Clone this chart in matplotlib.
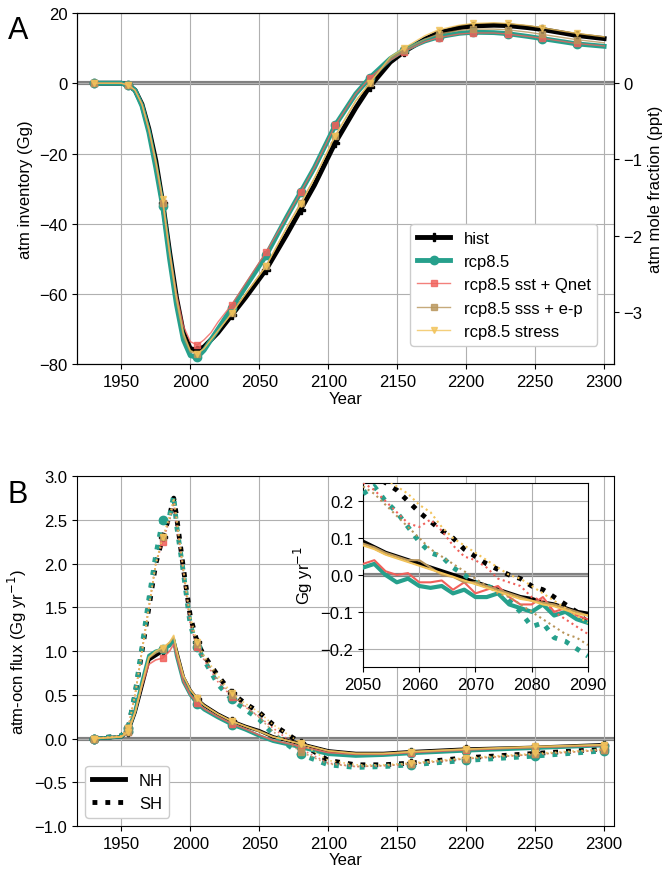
import matplotlib
matplotlib.use("Agg")
import matplotlib.pyplot as plt
import numpy as np
from matplotlib.lines import Line2D

plt.rcParams['font.family'] = ['Liberation Sans', 'DejaVu Sans']
plt.rcParams['font.size'] = 12

names = ["hist", "rcp8.5", "rcp8.5 sst + Qnet", "rcp8.5 sss + e-p", "rcp8.5 stress"]
colors = ["#000000", "#26a08c", "#f0605a", "#b8955a", "#f2c35a"]
markers = ["P", "o", "s", "s", "v"]

yearsA = [1930,1950,1955,1960,1965,1970,1975,1980,1985,1990,1995,2000,2005,2010,2015,2020,2030,2040,2055,2070,2080,2090,2105,2120,2130,2145,2155,2170,2180,2195,2205,2220,2230,2245,2255,2270,2280,2300]
invA = [
 [0,0,-0.5,-2,-6,-13,-22,-34,-48,-61,-71,-75.5,-76,-75,-73,-71,-66,-61,-53,-43,-36,-29,-17,-7,-1,6,9,12.5,14.3,15.8,16.3,16.5,16.4,15.8,15.3,14.3,13.6,12.7],
 [0,0,-0.5,-2,-6.5,-14,-24,-35,-50,-63,-73,-77.5,-78,-76,-73,-70,-64,-58,-49,-38,-31,-24,-12,-3,1.5,7,9.5,12,13.2,14.2,14.5,14.4,14.1,13.3,12.7,11.8,11.2,10.5],
 [0,0,-0.5,-2,-6,-13.5,-23,-34,-48,-60,-69,-73.5,-74.5,-73,-71,-68,-63,-57,-48,-38,-31,-24,-12,-3,1.5,6.5,9,11.8,13,14,14.3,14.3,14,13.3,12.8,11.9,11.3,10.6],
 [0,0,-0.5,-2,-6,-13.5,-23,-34,-49,-62,-72,-76.5,-77,-75.5,-73,-70.5,-65.5,-60,-52,-41,-34,-27,-15,-5,0,7,9.5,12.5,14,15,15.4,15.4,15.2,14.5,13.9,13,12.4,11.5],
 [0,0,-0.5,-2,-6,-13,-22,-33,-48,-61,-71,-76,-77,-75.5,-73,-70.5,-65.5,-60,-52,-41,-34.5,-27,-15,-5,0,7.5,10,13.5,15.2,16.5,17,17.2,17,16.4,15.8,14.8,14.2,13.2],
]

yearsB = [1930,1950,1955,1960,1965,1970,1975,1980,1985,1988,1990,1995,2000,2005,2010,2020,2030,2040,2050,2060,2080,2100,2120,2140,2160,2200,2250,2300]
nhB = [
 [0,0.02,0.08,0.3,0.6,0.9,0.95,1.0,1.08,1.12,1.0,0.7,0.55,0.45,0.38,0.28,0.2,0.14,0.09,0.02,-0.06,-0.14,-0.17,-0.17,-0.15,-0.12,-0.1,-0.07],
 [0,0.02,0.09,0.32,0.65,0.95,1.0,1.02,1.06,1.13,0.95,0.65,0.5,0.4,0.33,0.24,0.16,0.1,0.03,-0.03,-0.1,-0.18,-0.2,-0.19,-0.17,-0.14,-0.11,-0.08],
 [0,0.02,0.08,0.3,0.6,0.85,0.9,0.92,1.0,1.08,0.95,0.65,0.5,0.41,0.34,0.25,0.17,0.11,0.04,-0.02,-0.09,-0.16,-0.18,-0.18,-0.16,-0.13,-0.1,-0.08],
 [0,0.02,0.08,0.3,0.62,0.92,0.98,1.02,1.1,1.16,1.0,0.72,0.56,0.46,0.38,0.28,0.2,0.14,0.09,0.02,-0.06,-0.14,-0.17,-0.17,-0.15,-0.12,-0.1,-0.07],
 [0,0.02,0.08,0.3,0.62,0.93,1.0,1.04,1.1,1.18,1.02,0.72,0.56,0.46,0.38,0.28,0.2,0.14,0.08,0.02,-0.06,-0.14,-0.17,-0.17,-0.15,-0.12,-0.09,-0.07],
]
shB = [
 [0,0.03,0.12,0.5,1.0,1.5,2.0,2.3,2.55,2.75,2.55,1.95,1.4,1.1,0.95,0.72,0.52,0.4,0.3,0.16,-0.05,-0.25,-0.3,-0.3,-0.28,-0.22,-0.17,-0.12],
 [0,0.03,0.12,0.52,1.05,1.6,2.1,2.5,2.55,2.78,2.45,1.9,1.3,1.05,0.9,0.62,0.45,0.33,0.22,0.05,-0.18,-0.3,-0.33,-0.32,-0.3,-0.25,-0.2,-0.14],
 [0,0.03,0.12,0.5,1.0,1.5,2.0,2.25,2.5,2.7,2.45,1.9,1.3,1.05,0.9,0.65,0.48,0.36,0.25,0.12,-0.12,-0.28,-0.32,-0.31,-0.29,-0.23,-0.18,-0.13],
 [0,0.03,0.12,0.5,1.0,1.5,2.0,2.3,2.5,2.72,2.5,1.92,1.35,1.08,0.92,0.68,0.5,0.37,0.24,0.08,-0.15,-0.29,-0.32,-0.31,-0.29,-0.23,-0.18,-0.13],
 [0,0.03,0.12,0.5,1.0,1.5,2.0,2.3,2.55,2.75,2.55,1.95,1.4,1.1,0.95,0.72,0.52,0.4,0.3,0.16,-0.05,-0.25,-0.3,-0.3,-0.28,-0.22,-0.17,-0.12],
]

yearsI = list(range(2050, 2091, 2))
nhI = [
 [0.09,0.075,0.06,0.05,0.04,0.03,0.02,0.01,0.0,-0.01,-0.02,-0.03,-0.04,-0.05,-0.06,-0.065,-0.075,-0.08,-0.09,-0.1,-0.105],
 [0.02,0.03,0.0,-0.02,-0.01,-0.03,-0.035,-0.03,-0.05,-0.04,-0.06,-0.06,-0.05,-0.08,-0.09,-0.1,-0.08,-0.11,-0.1,-0.12,-0.13],
 [0.03,0.04,0.01,0.0,0.005,-0.02,-0.02,-0.015,-0.04,-0.02,-0.05,-0.04,-0.03,-0.06,-0.08,-0.08,-0.06,-0.1,-0.09,-0.11,-0.12],
 [0.085,0.075,0.06,0.05,0.04,0.04,0.02,0.0,-0.005,-0.02,-0.02,-0.03,-0.04,-0.05,-0.06,-0.07,-0.075,-0.08,-0.09,-0.1,-0.11],
 [0.08,0.07,0.055,0.045,0.035,0.025,0.015,0.005,-0.005,-0.015,-0.025,-0.035,-0.045,-0.055,-0.065,-0.07,-0.08,-0.085,-0.095,-0.105,-0.11],
]
shI = [
 [0.3,0.27,0.25,0.23,0.2,0.17,0.145,0.12,0.1,0.07,0.05,0.03,0.015,0.0,-0.01,-0.03,-0.04,-0.06,-0.08,-0.1,-0.13],
 [0.22,0.24,0.2,0.17,0.13,0.09,0.06,0.05,0.02,0.0,-0.02,-0.03,-0.04,-0.07,-0.1,-0.14,-0.13,-0.17,-0.18,-0.2,-0.22],
 [0.25,0.23,0.2,0.17,0.14,0.13,0.15,0.12,0.08,0.05,0.04,0.02,-0.01,-0.02,-0.03,-0.06,-0.07,-0.1,-0.12,-0.14,-0.16],
 [0.24,0.22,0.19,0.16,0.13,0.1,0.07,0.05,0.03,0.01,-0.01,-0.03,-0.05,-0.06,-0.08,-0.1,-0.12,-0.14,-0.16,-0.17,-0.19],
 [0.3,0.28,0.26,0.24,0.22,0.19,0.17,0.13,0.1,0.08,0.06,0.04,0.02,0.0,-0.01,-0.03,-0.05,-0.07,-0.09,-0.11,-0.13],
]

GG_PER_PPT = 21.7
lw = [3.5, 3.5, 1.0, 1.0, 1.0]
ms = [6, 6, 4, 4, 4]
zs = [3, 4, 5, 5, 5]
xt = [1950, 2000, 2050, 2100, 2150, 2200, 2250, 2300]

def mk_idx(years):
    return [i for i, y in enumerate(years) if (y - 1930) % 25 == 0]

fig = plt.figure(figsize=(6.65, 8.70), dpi=100)
axA = fig.add_axes([0.116, 0.580, 0.807, 0.404])
axA.axhline(0, color="gray", lw=3, zorder=1)
for k in range(5):
    axA.plot(yearsA, invA[k], color=colors[k], lw=lw[k], marker=markers[k], ms=ms[k],
             markevery=mk_idx(yearsA), label=names[k], zorder=zs[k],
             alpha=1 if k < 2 else 0.8)
axA.set_xlim(1918, 2307)
axA.set_ylim(-80, 20)
axA.set_xticks(xt)
axA.set_ylabel("atm inventory (Gg)")
axA.set_xlabel("Year", labelpad=1)
axA.grid(True, color="#b0b0b0")
axA.legend(loc="lower right", bbox_to_anchor=(0.985, 0.03), fontsize=12, framealpha=1)
axA2 = axA.twinx()
axA2.set_ylim(-80 / GG_PER_PPT, 20 / GG_PER_PPT)
axA2.set_yticks([0, -1, -2, -3])
axA2.set_ylabel("atm mole fraction (ppt)")
fig.text(0.012, 0.955, "A", fontsize=22)

axB = fig.add_axes([0.116, 0.0494, 0.807, 0.402])
axB.axhline(0, color="gray", lw=3, zorder=1)
mkB = [i for i, y in enumerate(yearsB) if y in (1930, 1955, 1980, 2005, 2030, 2080, 2160, 2200, 2250, 2300)]
for k in range(5):
    a = 1 if k < 2 else 0.85
    axB.plot(yearsB, nhB[k], color=colors[k], lw=2.5 if k < 2 else 1.2, marker=markers[k],
             ms=ms[k], markevery=mkB, zorder=zs[k], alpha=a)
    axB.plot(yearsB, shB[k], color=colors[k], lw=3.5 if k < 2 else 1.2, ls=":",
             marker=markers[k], ms=ms[k], markevery=mkB, zorder=zs[k], alpha=a)
axB.set_xlim(1918, 2307)
axB.set_ylim(-1.0, 3.0)
axB.set_yticks(np.arange(-1.0, 3.01, 0.5))
axB.set_xticks(xt)
axB.set_ylabel("atm-ocn flux (Gg yr$^{-1}$)")
axB.set_xlabel("Year", labelpad=1)
axB.grid(True, color="#b0b0b0")
axB.legend([Line2D([], [], color="k", lw=3.5), Line2D([], [], color="k", lw=3.5, ls=":")],
           ["NH", "SH"], loc="lower left", fontsize=12, framealpha=1)
fig.text(0.012, 0.422, "B", fontsize=22)

axI = fig.add_axes([0.546, 0.232, 0.338, 0.212])
axI.axhline(0, color="gray", lw=3, zorder=1)
for k in range(5):
    axI.plot(yearsI, nhI[k], color=colors[k], lw=3 if k < 2 else 1.5, zorder=zs[k])
    axI.plot(yearsI, shI[k], color=colors[k], lw=3.5 if k < 2 else 1.5, ls=":", zorder=zs[k])
axI.set_xlim(2050, 2090)
axI.set_ylim(-0.25, 0.25)
axI.set_xticks([2050, 2060, 2070, 2080, 2090])
axI.set_yticks([-0.2, -0.1, 0.0, 0.1, 0.2])
axI.set_ylabel("Gg yr$^{-1}$")
axI.grid(True, color="#b0b0b0")
axI.set_facecolor("white")

fig.savefig("out.png", dpi=100)
